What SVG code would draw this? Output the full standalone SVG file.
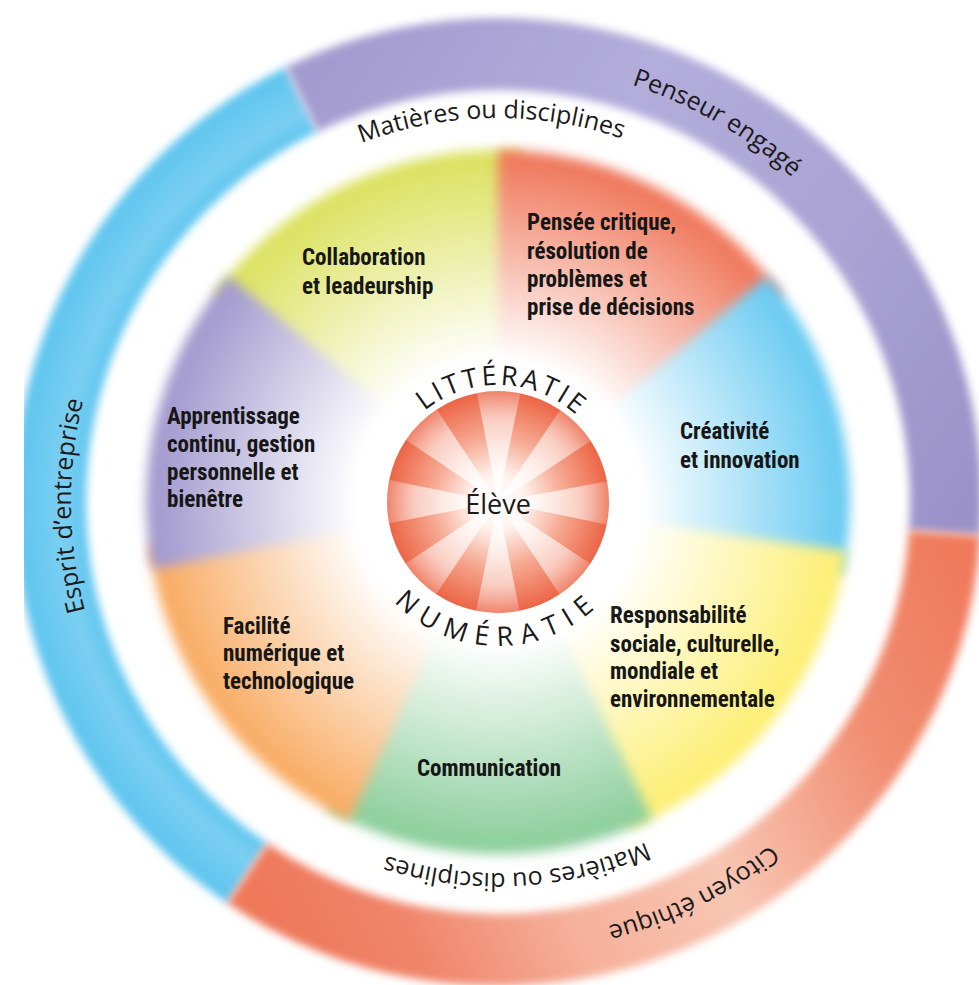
<svg xmlns="http://www.w3.org/2000/svg" width="979" height="985" viewBox="0 0 979 985">
<defs>
<style>
.lbl{font-family:"Liberation Sans Narrow","Roboto Condensed","DejaVu Sans Condensed","Liberation Sans",sans-serif;font-weight:bold;font-size:23px;fill:#161616;}
.arc{font-family:"Open Sans","Noto Sans",sans-serif;font-size:25px;fill:#1a1a1a;}
.cap{font-family:"Open Sans","Noto Sans",sans-serif;font-size:27px;fill:#1a1a1a;}
.ring{fill:none;stroke-width:72;filter:url(#soft4);}
.wedge{filter:url(#soft6);}
</style>
<filter id="soft4" x="-10%" y="-10%" width="120%" height="120%"><feGaussianBlur stdDeviation="4"/></filter>
<filter id="soft6" x="-10%" y="-10%" width="120%" height="120%"><feGaussianBlur stdDeviation="6"/></filter>
<filter id="soft10" x="-20%" y="-20%" width="140%" height="140%"><feGaussianBlur stdDeviation="10"/></filter>
<linearGradient id="gPurple" gradientUnits="userSpaceOnUse" x1="300" y1="100" x2="945" y2="533">
<stop offset="0" stop-color="#a39bcf"/><stop offset="0.35" stop-color="#b3addb"/><stop offset="0.7" stop-color="#a9a2d3"/><stop offset="1" stop-color="#9a92c9"/>
</linearGradient>
<linearGradient id="gRed" gradientUnits="userSpaceOnUse" x1="945" y1="533" x2="247" y2="873">
<stop offset="0" stop-color="#f07a5c"/><stop offset="0.2" stop-color="#f18e72"/><stop offset="0.45" stop-color="#f8c6b4"/><stop offset="0.65" stop-color="#f6b19b"/><stop offset="0.85" stop-color="#f0846a"/><stop offset="1" stop-color="#ef785a"/>
</linearGradient>
<radialGradient id="gBlue" gradientUnits="userSpaceOnUse" cx="498" cy="502" r="484">
<stop offset="0.85" stop-color="#5cc4ef"/><stop offset="0.9" stop-color="#7ccff2"/><stop offset="1" stop-color="#5cc4ef"/>
</radialGradient>
<radialGradient id="wYG" gradientUnits="userSpaceOnUse" cx="498" cy="502" r="352"><stop offset="0.4" stop-color="#fff"/><stop offset="0.97" stop-color="#dce262"/></radialGradient>
<radialGradient id="wRed" gradientUnits="userSpaceOnUse" cx="498" cy="502" r="352"><stop offset="0.4" stop-color="#fff"/><stop offset="0.97" stop-color="#f07a5e"/></radialGradient>
<radialGradient id="wBlue" gradientUnits="userSpaceOnUse" cx="498" cy="502" r="352"><stop offset="0.4" stop-color="#fff"/><stop offset="0.97" stop-color="#6ccbf2"/></radialGradient>
<radialGradient id="wYel" gradientUnits="userSpaceOnUse" cx="498" cy="502" r="352"><stop offset="0.4" stop-color="#fff"/><stop offset="0.97" stop-color="#fdef76"/></radialGradient>
<radialGradient id="wGreen" gradientUnits="userSpaceOnUse" cx="498" cy="502" r="352"><stop offset="0.4" stop-color="#fff"/><stop offset="0.97" stop-color="#8ecf9d"/></radialGradient>
<radialGradient id="wOrange" gradientUnits="userSpaceOnUse" cx="498" cy="502" r="352"><stop offset="0.4" stop-color="#fff"/><stop offset="0.97" stop-color="#f9ad66"/></radialGradient>
<radialGradient id="wPurple" gradientUnits="userSpaceOnUse" cx="498" cy="502" r="352"><stop offset="0.4" stop-color="#fff"/><stop offset="0.97" stop-color="#a39bcf"/></radialGradient>
<radialGradient id="gCore" gradientUnits="userSpaceOnUse" cx="498" cy="502" r="111"><stop offset="0" stop-color="#ffffff"/><stop offset="0.25" stop-color="#fff2ed"/><stop offset="0.6" stop-color="#f6a891"/><stop offset="1" stop-color="#ec6546"/></radialGradient>
<radialGradient id="gRay" gradientUnits="userSpaceOnUse" cx="498" cy="502" r="111"><stop offset="0" stop-color="#fff" stop-opacity="0.9"/><stop offset="0.75" stop-color="#fff" stop-opacity="0.55"/><stop offset="1" stop-color="#fff" stop-opacity="0.2"/></radialGradient>
<path id="cw384" d="M498,886 A384,384 0 1 1 498,118 A384,384 0 1 1 498,886"/>
<path id="cw371" d="M498,873 A371,371 0 1 1 498,131 A371,371 0 1 1 498,873"/>
<path id="cw438" d="M498,940 A438,438 0 1 1 498,64 A438,438 0 1 1 498,940"/>
<path id="cw427" d="M498,929 A427,427 0 1 1 498,75 A427,427 0 1 1 498,929"/>
<path id="cw117" d="M498,619 A117,117 0 1 1 498,385 A117,117 0 1 1 498,619"/>
<path id="ccw144" d="M498,358 A144,144 0 1 0 498,646 A144,144 0 1 0 498,358"/>
</defs>
<rect width="979" height="985" fill="#fff"/>

<g id="ring-esprit">
<path class="ring" stroke="url(#gBlue)" d="M247.5,873.4 A448,448 0 0 1 301.6,99.3"/>
<text class="arc" transform="rotate(-90.5 498 502)"><textPath href="#cw427" startOffset="50%" text-anchor="middle">Esprit d’entreprise</textPath></text>
</g>
<g id="ring-penseur">
<path class="ring" stroke="url(#gPurple)" d="M301.6,99.3 A448,448 0 0 1 944.9,533.3"/>
<text class="arc" transform="rotate(30 498 502)"><textPath href="#cw438" startOffset="50%" text-anchor="middle">Penseur engagé</textPath></text>
</g>
<g id="ring-citoyen">
<path class="ring" stroke="url(#gRed)" d="M944.9,533.3 A448,448 0 0 1 247.5,873.4"/>
<text class="arc" transform="rotate(-206.5 498 502)"><textPath href="#cw438" startOffset="50%" text-anchor="middle">Citoyen éthique</textPath></text>
</g>

<g id="node-collaboration">
<path class="wedge" fill="url(#wYG)" d="M498,502 L213.2,295.1 A352,352 0 0 1 522.6,150.9 Z"/>
<text class="lbl"><tspan x="302" y="265">Collaboration</tspan><tspan x="302" y="294">et leadeurship</tspan></text>
</g>
<g id="node-pensee">
<path class="wedge" fill="url(#wRed)" d="M498,502 L498,150 A352,352 0 0 1 782.8,295.1 Z"/>
<text class="lbl"><tspan x="527" y="230">Pensée critique,</tspan><tspan x="527" y="259">résolution de</tspan><tspan x="527" y="287">problèmes et</tspan><tspan x="527" y="315">prise de décisions</tspan></text>
</g>
<g id="node-creativite">
<path class="wedge" fill="url(#wBlue)" d="M498,502 L767.6,275.7 A352,352 0 0 1 842.3,575.2 Z"/>
<text class="lbl"><tspan x="680" y="439">Créativité</tspan><tspan x="680" y="468">et innovation</tspan></text>
</g>
<g id="node-responsabilite">
<path class="wedge" fill="url(#wYel)" d="M498,502 L846.6,551 A352,352 0 0 1 629.9,828.4 Z"/>
<text class="lbl"><tspan x="610" y="623">Responsabilité</tspan><tspan x="610" y="652">sociale, culturelle,</tspan><tspan x="610" y="679">mondiale et</tspan><tspan x="610" y="707">environnementale</tspan></text>
</g>
<g id="node-communication">
<path class="wedge" fill="url(#wGreen)" d="M498,502 L652.3,818.4 A352,352 0 0 1 327.3,809.9 Z"/>
<text class="lbl" x="417" y="776">Communication</text>
</g>
<g id="node-facilite">
<path class="wedge" fill="url(#wOrange)" d="M498,502 L349.2,821 A352,352 0 0 1 148.6,544.9 Z"/>
<text class="lbl"><tspan x="223" y="634">Facilité</tspan><tspan x="223" y="661">numérique et</tspan><tspan x="223" y="689">technologique</tspan></text>
</g>
<g id="node-apprentissage">
<path class="wedge" fill="url(#wPurple)" d="M498,502 L152.5,569.2 A352,352 0 0 1 228.4,275.7 Z"/>
<text class="lbl"><tspan x="167" y="424">Apprentissage</tspan><tspan x="167" y="452">continu, gestion</tspan><tspan x="167" y="480">personnelle et</tspan><tspan x="167" y="507">bienêtre</tspan></text>
</g>

<g id="subjects">
<text class="arc" font-size="24.5" transform="rotate(-1 498 502)"><textPath href="#cw384" startOffset="50%" text-anchor="middle">Matières ou disciplines</textPath></text>
<text class="arc" font-size="24.5" transform="rotate(-183 498 502)"><textPath href="#cw371" startOffset="50%" text-anchor="middle">Matières ou disciplines</textPath></text>
</g>

<g id="node-eleve">
<circle cx="498" cy="502" r="142" fill="#fff" filter="url(#soft10)"/>
<circle cx="498" cy="502" r="111" fill="url(#gCore)"/>
<circle cx="498" cy="502" r="55.5" fill="none" stroke="url(#gRay)" stroke-width="111" stroke-dasharray="21.79 21.79" transform="rotate(33.75 498 502)"/>
<text class="cap" font-size="33" x="498" y="514" text-anchor="middle">Élève</text>
<text class="cap" transform="rotate(1.5 498 502)"><textPath href="#cw117" startOffset="50%" text-anchor="middle" textLength="165">LITTÉRATIE</textPath></text>
<text class="cap" transform="rotate(2 498 502)"><textPath href="#ccw144" startOffset="50%" text-anchor="middle" textLength="222">NUMÉRATIE</textPath></text>
</g>
</svg>
